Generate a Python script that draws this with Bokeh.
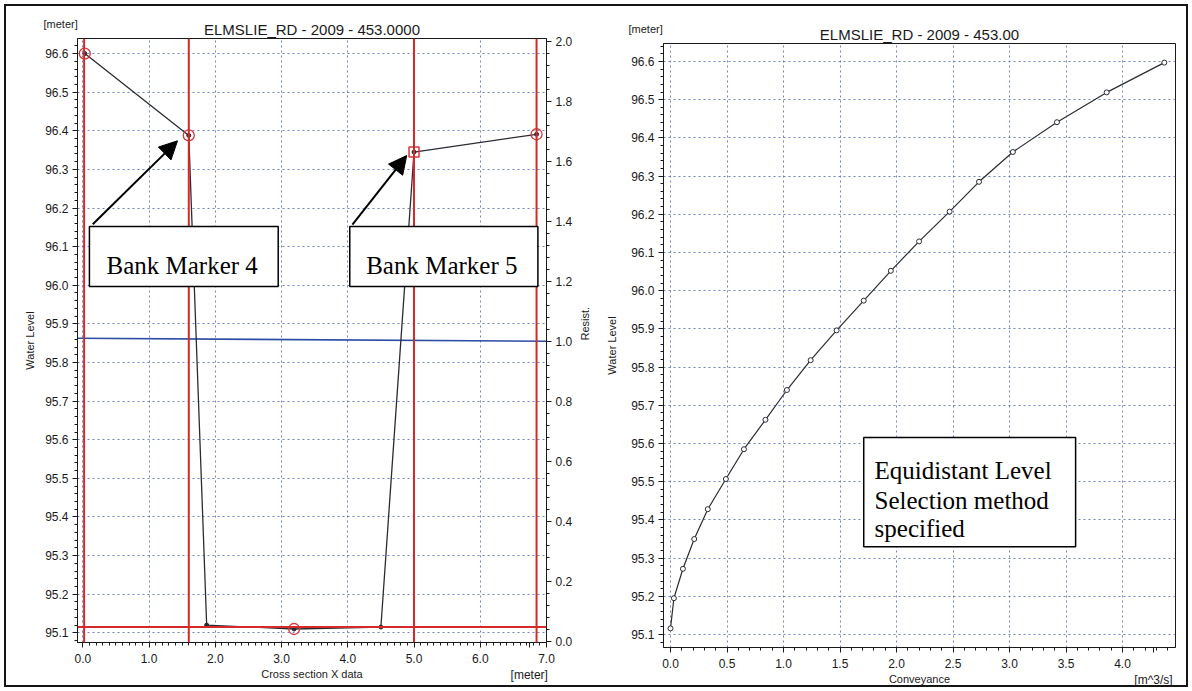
import math
from bokeh.plotting import figure
from bokeh.models import (Range1d, LinearAxis, Span, Label, BoxAnnotation, Arrow, Title,
                          NormalHead, SingleIntervalTicker, FixedTicker, NumeralTickFormatter)
from bokeh.layouts import row
from bokeh.embed import file_html
from bokeh.resources import INLINE

FONT = "Liberation Sans"
SERIF = "Liberation Serif"
INK = "#1a1a1a"

# ---------------- left chart: cross section ----------------
left_title = "ELMSLIE_RD - 2009 - 453.0000"
section_x = [0.03, 1.60, 1.87, 3.19, 4.50, 5.00, 6.85]
section_level = [96.600, 96.388, 95.120, 95.110, 95.115, 96.345, 96.391]
circled_points = [0, 1, 3, 6]
squared_points = [5]
bank_marker_x = [0.02, 1.60, 5.00, 6.85]
water_level = 95.115
resist_x = [-0.08, 7.0]
resist_value = [1.01, 1.00]
left_x_ticks = [0.0, 1.0, 2.0, 3.0, 4.0, 5.0, 6.0, 7.0]
left_unit_at = 6.74          # where the "[meter]" unit text sits under the axis
left_x_unit = "[meter]"

bank_labels = ["Bank Marker 4", "Bank Marker 5"]
bank_box_left = [0.10, 4.03]
bank_box_right = [2.95, 6.87]
bank_box_top = 96.152
bank_box_bottom = 95.997
bank_text_x = [1.50, 5.42]
bank_text_y = 96.05
arrow_tail_x = [0.15, 4.07]
arrow_tail_y = [96.158, 96.157]
arrow_head_x = [1.43, 4.89]
arrow_head_y = [96.374, 96.336]

# ---------------- right chart: conveyance ----------------
right_title = "ELMSLIE_RD - 2009 - 453.00"
conveyance = [0.00, 0.03, 0.11, 0.21, 0.33, 0.49, 0.65, 0.84, 1.03, 1.24,
              1.47, 1.71, 1.95, 2.20, 2.47, 2.73, 3.03, 3.42, 3.86, 4.37]
conv_level = [95.116, 95.195, 95.272, 95.350, 95.428, 95.507, 95.585, 95.662, 95.740, 95.818,
              95.896, 95.974, 96.052, 96.129, 96.207, 96.285, 96.363, 96.441, 96.519, 96.597]
right_x_ticks = [0.0, 0.5, 1.0, 1.5, 2.0, 2.5, 3.0, 3.5, 4.0]
right_unit_at = 4.274
right_x_unit = "[m^3/s]"
method_lines = ["Equidistant Level", "Selection method", "specified"]
method_box_left, method_box_right = 1.71, 3.585
method_box_top, method_box_bottom = 95.616, 95.330
method_text_x = 1.806
method_text_y = [95.530, 95.452, 95.377]


def style_axis(ax, label_standoff=4, tick_standoff=4):
    ax.major_label_text_font = FONT
    ax.major_label_text_font_size = "12px"
    ax.major_label_text_color = INK
    ax.axis_label_text_font = FONT
    ax.axis_label_text_font_size = "11px"
    ax.axis_label_text_font_style = "normal"
    ax.axis_label_text_color = INK
    ax.axis_line_color = INK
    ax.major_tick_line_color = INK
    ax.minor_tick_line_color = INK
    ax.major_tick_out = 5
    ax.major_tick_in = 0
    ax.minor_tick_out = 3
    ax.minor_tick_in = 0
    ax.major_label_standoff = tick_standoff
    ax.axis_label_standoff = label_standoff
    ax.formatter = NumeralTickFormatter(format="0.0")


def style_fig(p):
    p.border_fill_color = None
    p.background_fill_color = "white"
    p.outline_line_color = INK
    p.outline_line_width = 1
    p.grid.grid_line_color = "#5a6dbd"
    p.grid.grid_line_dash = "2 3"
    p.grid.grid_line_alpha = 0.85
    p.grid.grid_line_width = 1
    try:
        p.frame_align = False
    except Exception:
        pass


def add_title(p, text, side, size, align, offset=0, standoff=2, valign="bottom"):
    t = Title(text=text, align=align, offset=offset, standoff=standoff,
              vertical_align=valign, text_font=FONT, text_font_size=size,
              text_font_style="normal", text_color=INK)
    p.add_layout(t, side)


def unit_x_axis(ax, major, step, unit_at, unit_text, lo, hi):
    minors = [round(lo + i * step / 5.0, 4) for i in range(int((hi - lo) / (step / 5.0)) + 1)]
    ax.ticker = FixedTicker(ticks=major + [unit_at], minor_ticks=minors)
    ax.major_label_overrides = {unit_at: "\n" + unit_text}


# ======== left figure ========
p1 = figure(width=600, height=691, output_backend="svg", toolbar_location=None,
            x_range=Range1d(-0.08, 7.0), y_range=Range1d(95.075, 96.639),
            min_border_left=77, min_border_right=51, min_border_top=38, min_border_bottom=49,
            title=None)
style_fig(p1)
add_title(p1, left_title, "above", "15px", "center", standoff=2)
add_title(p1, "[meter]", "above", "11px", "left", offset=-34, standoff=-25, valign="bottom")

p1.extra_y_ranges = {"resist": Range1d(-0.005, 2.01)}
p1.add_layout(LinearAxis(y_range_name="resist"), "right")

yt1 = SingleIntervalTicker(interval=0.1, num_minor_ticks=5)
rt1 = SingleIntervalTicker(interval=0.2, num_minor_ticks=5)
style_axis(p1.xaxis[0], -17, 4)
unit_x_axis(p1.xaxis[0], left_x_ticks, 0.5, left_unit_at, left_x_unit, 0.0, 7.0)
p1.xgrid.ticker = FixedTicker(ticks=left_x_ticks)
p1.yaxis[0].ticker = yt1
p1.ygrid.ticker = yt1
p1.yaxis[1].ticker = rt1
style_axis(p1.yaxis[0], 6)
style_axis(p1.yaxis[1], 10)
p1.xaxis.axis_label = "Cross section X data"
p1.yaxis[0].axis_label = "Water Level"
p1.yaxis[1].axis_label = "Resist."
try:
    p1.yaxis[1].axis_label_orientation = math.pi / 2
    p1.yaxis[1].axis_label_text_align = "center"
except Exception:
    pass

p1.line(resist_x, resist_value, y_range_name="resist", line_color="#2c4ca6", line_width=1.6)
p1.line(section_x, section_level, line_color="#2b2b33", line_width=1.3)
p1.scatter(section_x, section_level, size=4, color="#2b2b33")
p1.scatter([section_x[i] for i in circled_points], [section_level[i] for i in circled_points],
           marker="circle", size=11, fill_color=None, line_color="#d23a3a", line_width=1.3)
p1.scatter([section_x[i] for i in squared_points], [section_level[i] for i in squared_points],
           marker="square", size=10, fill_color=None, line_color="#d23a3a", line_width=1.5)

for bx in bank_marker_x:
    p1.add_layout(Span(location=bx, dimension="height", line_color="#d42a2a", line_width=2))
p1.add_layout(Span(location=water_level, dimension="width", line_color="#d42a2a", line_width=2))

for i, txt in enumerate(bank_labels):
    p1.add_layout(BoxAnnotation(left=bank_box_left[i], right=bank_box_right[i],
                                top=bank_box_top, bottom=bank_box_bottom,
                                fill_color="white", fill_alpha=1.0,
                                line_color="black", line_width=1.5, line_alpha=1.0))
    p1.add_layout(Label(x=bank_text_x[i], y=bank_text_y, text=txt, text_font=SERIF,
                        text_font_size="25px", text_color="black",
                        text_align="center", text_baseline="alphabetic"))
    p1.add_layout(Arrow(end=NormalHead(size=18, fill_color="black", line_color="black"),
                        x_start=arrow_tail_x[i], y_start=arrow_tail_y[i],
                        x_end=arrow_head_x[i], y_end=arrow_head_y[i],
                        line_color="black", line_width=2))

# ======== right figure ========
p2 = figure(width=592, height=691, output_backend="svg", toolbar_location=None,
            x_range=Range1d(-0.062, 4.469), y_range=Range1d(95.066, 96.647),
            min_border_left=63, min_border_right=17, min_border_top=43, min_border_bottom=44,
            title=None)
style_fig(p2)
add_title(p2, right_title, "above", "15px", "center", standoff=2)
add_title(p2, "[meter]", "above", "11px", "left", offset=-35, standoff=-24, valign="bottom")

yt2 = SingleIntervalTicker(interval=0.1, num_minor_ticks=5)
style_axis(p2.xaxis[0], -17, 4)
unit_x_axis(p2.xaxis[0], right_x_ticks, 0.5, right_unit_at, right_x_unit, 0.0, 4.4)
p2.xgrid.ticker = FixedTicker(ticks=right_x_ticks)
p2.yaxis.ticker = yt2
p2.ygrid.ticker = yt2
style_axis(p2.yaxis[0], 10)
p2.xaxis.axis_label = "Conveyance"
p2.yaxis.axis_label = "Water Level"

p2.line(conveyance, conv_level, line_color="#2b2b33", line_width=1.2)
p2.scatter(conveyance, conv_level, marker="circle", size=5, fill_color="white",
           line_color="#2b2b33", line_width=1)

p2.add_layout(BoxAnnotation(left=method_box_left, right=method_box_right,
                            top=method_box_top, bottom=method_box_bottom,
                            fill_color="white", fill_alpha=1.0,
                            line_color="black", line_width=1.5, line_alpha=1.0))
for txt, ty in zip(method_lines, method_text_y):
    p2.add_layout(Label(x=method_text_x, y=ty, text=txt, text_font=SERIF,
                        text_font_size="25px", text_color="black",
                        text_align="left", text_baseline="alphabetic"))

layout = row(p1, p2, styles={"box-shadow": "inset 0 0 0 4px white, inset 0 0 0 6px #151515"})

open("out.html", "w").write(file_html(layout, INLINE))
